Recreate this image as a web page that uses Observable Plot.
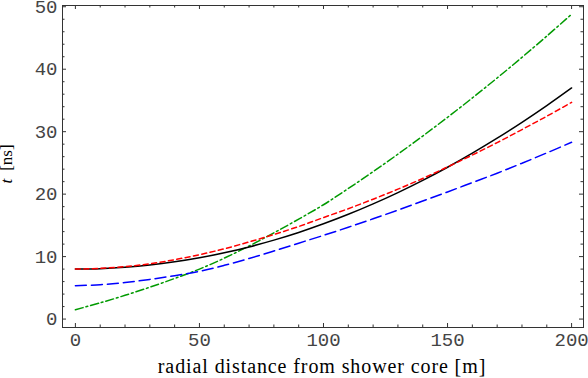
<!DOCTYPE html>
<html>
<head>
<meta charset="utf-8">
<script src="https://cdn.jsdelivr.net/npm/d3@7"></script>
<script src="https://cdn.jsdelivr.net/npm/@observablehq/plot@0.6"></script>
<style>
  html, body { margin: 0; padding: 0; background: #fff; }
  #chart svg { display: block; }
</style>
</head>
<body>
<div id="chart"></div>
<script>
// radial distance from shower core [m]
const radius = [0, 10, 20, 30, 40, 50, 60, 70, 80, 90, 100, 110, 120, 130, 140, 150, 160, 170, 180, 190, 200];
// arrival time t [ns] of the four curves
const tSolid   = [8.0, 8.07, 8.29, 8.65, 9.16, 9.81, 10.6, 11.55, 12.64, 13.87, 15.25, 16.77, 18.44, 20.25, 22.21, 24.31, 26.56, 28.95, 31.49, 34.17, 37.0];
const tShort   = [8.0, 8.12, 8.39, 8.85, 9.51, 10.31, 11.25, 12.35, 13.54, 14.82, 16.25, 17.67, 19.19, 20.8, 22.51, 24.36, 26.26, 28.25, 30.34, 32.47, 34.7];
const tLong    = [5.35, 5.5, 5.85, 6.35, 6.95, 7.65, 8.6, 9.7, 10.9, 12.15, 13.4, 14.7, 16.05, 17.45, 18.9, 20.35, 21.85, 23.35, 24.95, 26.6, 28.3];
const tDashDot = [1.5, 2.6, 3.8, 5.1, 6.5, 8.0, 9.75, 11.7, 13.8, 16.0, 18.3, 20.9, 23.6, 26.4, 29.3, 32.3, 35.4, 38.6, 41.9, 45.3, 48.8];

// tick labels
const xTickLabels = [0, 50, 100, 150, 200];
const yTickLabels = [0, 10, 20, 30, 40, 50];
const xMinorTicks = d3.range(0, 201, 10).filter(v => !xTickLabels.includes(v));
const yMinorTicks = d3.range(0, 51, 2).filter(v => !yTickLabels.includes(v));

const xLabel = "radial distance from shower core [m]";
const yLabel = "t  [ns]";

const series = [
  {values: tDashDot, color: "#009a00", dash: "8,3,1.8,3"},
  {values: tLong,    color: "#0000ff", dash: "11,5"},
  {values: tSolid,   color: "#000000", dash: null},
  {values: tShort,   color: "#ff0000", dash: "5,3.5"}
];

const W = 588, H = 378;
const mL = 62, mR = 5, mT = 5, mB = 51;
const innerW = W - mL - mR, innerH = H - mT - mB;
const axisColor = "#333";
const labelColor = "#444";
const monoFont = "'Liberation Mono', 'DejaVu Sans Mono', monospace";
const serifFont = "'Liberation Serif', 'DejaVu Serif', serif";

const lineMarks = series.map(s => Plot.line(
  radius.map((r, i) => ({r, t: s.values[i]})),
  {x: "r", y: "t", stroke: s.color, strokeWidth: 1.5, strokeDasharray: s.dash, curve: "catmull-rom"}
));

const tickMarks = [
  // bottom & top (inward)
  Plot.tickX(xTickLabels, {x: d => d, insetTop: innerH - 4, stroke: axisColor}),
  Plot.tickX(xTickLabels, {x: d => d, insetBottom: innerH - 4, stroke: axisColor}),
  Plot.tickX(xMinorTicks, {x: d => d, insetTop: innerH - 2.5, stroke: axisColor}),
  Plot.tickX(xMinorTicks, {x: d => d, insetBottom: innerH - 2.5, stroke: axisColor}),
  // left & right (inward)
  Plot.tickY(yTickLabels, {y: d => d, insetRight: innerW - 4, stroke: axisColor}),
  Plot.tickY(yTickLabels, {y: d => d, insetLeft: innerW - 4, stroke: axisColor}),
  Plot.tickY(yMinorTicks, {y: d => d, insetRight: innerW - 2.5, stroke: axisColor}),
  Plot.tickY(yMinorTicks, {y: d => d, insetLeft: innerW - 2.5, stroke: axisColor})
];

const chart = Plot.plot({
  width: W, height: H,
  marginLeft: mL, marginRight: mR, marginTop: mT, marginBottom: mB,
  x: {domain: [-5.2, 204.8], axis: null},
  y: {domain: [-1.35, 50.2], axis: null},
  style: {background: "#fff", overflow: "visible"},
  marks: [
    ...lineMarks,
    ...tickMarks,
    Plot.frame({stroke: axisColor, strokeWidth: 1}),
    Plot.text(xTickLabels, {x: d => d, text: d => String(d), frameAnchor: "bottom", lineAnchor: "middle", dy: 12,
      fontFamily: monoFont, fontSize: 19, fill: labelColor}),
    Plot.text(yTickLabels, {y: d => d, text: d => String(d), frameAnchor: "left", dx: -5, textAnchor: "end", lineAnchor: "middle",
      fontFamily: monoFont, fontSize: 19, fill: labelColor}),
    Plot.text([xLabel], {text: d => d, frameAnchor: "bottom", lineAnchor: "middle", textAnchor: "middle", dy: 39.2, dx: -1,
      fontFamily: serifFont, fontSize: 20, fill: "#000"}),
    Plot.text([yLabel], {text: d => d, frameAnchor: "left", textAnchor: "middle", lineAnchor: "middle", dx: -56.3, dy: -2.5, rotate: -90,
      fontFamily: serifFont, fontSize: 17, fill: "#000"})
  ]
});

chart.querySelectorAll("text").forEach(el => {
  if (el.textContent === yLabel) {
    // italic "t", upright unit
    el.textContent = "";
    const ns = "http://www.w3.org/2000/svg";
    const t1 = document.createElementNS(ns, "tspan");
    t1.setAttribute("font-style", "italic");
    t1.textContent = "t";
    const t2 = document.createElementNS(ns, "tspan");
    t2.setAttribute("dx", "8");
    t2.textContent = "[ns]";
    el.appendChild(t1);
    el.appendChild(t2);
  } else if (el.textContent === xLabel) {
    el.style.letterSpacing = "0.9px";
  }
});

document.getElementById("chart").appendChild(chart);
</script>
</body>
</html>
